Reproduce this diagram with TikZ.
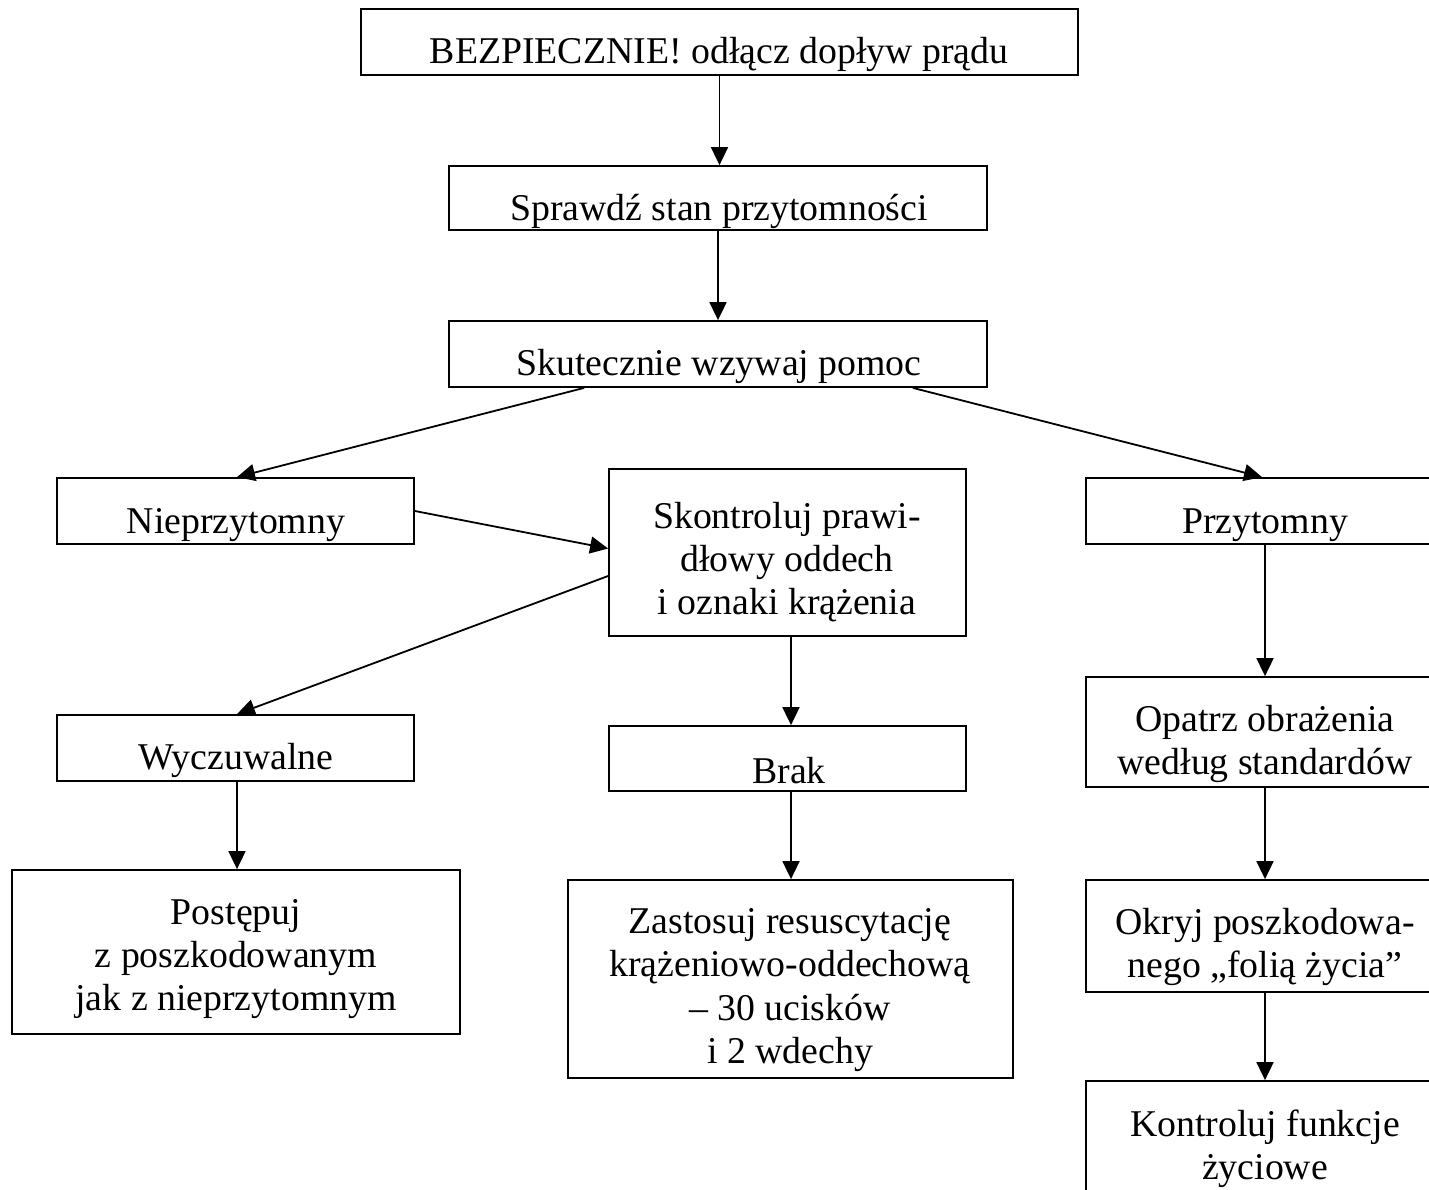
\documentclass[tikz,border=0pt]{standalone}
\usepackage{fontspec}
\setmainfont{Liberation Serif}
\usetikzlibrary{arrows.meta,calc}
\begin{document}
\begin{tikzpicture}[x=0.5pt,y=-0.5pt,
  box/.style={draw=black,line width=0.9pt,rectangle,inner sep=0pt},
  txt/.style={align=center,inner sep=0pt,font=\fontsize{18.9pt}{21.6pt}\selectfont},
  arr/.style={line width=0.9pt,-{Triangle[length=9pt,width=8.5pt]}}]
\useasboundingbox (0,0) rectangle (1429,1189);
\clip (0,0) rectangle (1429,1189);
% boxes
\node[box,minimum width=717*0.5pt,minimum height=66*0.5pt] (b1) at (719.5,42) {};
\node[box,minimum width=538*0.5pt,minimum height=64*0.5pt] (b2) at (718,198) {};
\node[box,minimum width=538*0.5pt,minimum height=66*0.5pt] (b3) at (718,354) {};
\node[box,minimum width=357*0.5pt,minimum height=66*0.5pt] (b4) at (235.5,511) {};
\node[box,minimum width=357*0.5pt,minimum height=167*0.5pt] (b5) at (787.5,552.5) {};
\node[box,minimum width=358*0.5pt,minimum height=66*0.5pt] (b6) at (1265,511) {};
\node[box,minimum width=357*0.5pt,minimum height=66*0.5pt] (b7) at (235.5,748) {};
\node[box,minimum width=357*0.5pt,minimum height=65*0.5pt] (b8) at (787.5,758.5) {};
\node[box,minimum width=358*0.5pt,minimum height=110*0.5pt] (b9) at (1265,732) {};
\node[box,minimum width=448*0.5pt,minimum height=164*0.5pt] (b10) at (236,952) {};
\node[box,minimum width=445*0.5pt,minimum height=198*0.5pt] (b11) at (790.5,979) {};
\node[box,minimum width=358*0.5pt,minimum height=112*0.5pt] (b12) at (1265,936) {};
\node[box,minimum width=358*0.5pt,minimum height=160*0.5pt] (b13) at (1265,1161) {};
% texts
\node[txt] (t1) at (719,54) {BEZPIECZNIE! odłącz dopływ prądu};
\node[txt] (t2) at (719,211) {Sprawdź stan przytomności};
\node[txt] (t3) at (719,366) {Skutecznie wzywaj pomoc};
\node[txt] (t4) at (236,525) {Nieprzytomny};
\node[txt] (t5) at (787,562) {Skontroluj prawi-\\dłowy oddech\\i oznaki krążenia};
\node[txt] (t6) at (1265,525) {Przytomny};
\node[txt] (t7) at (236,760) {Wyczuwalne};
\node[txt] (t8) at (789,771) {Brak};
\node[txt] (t9) at (1265,744) {Opatrz obrażenia\\według standardów};
\node[txt] (t10) at (236,959) {Postępuj\\z poszkodowanym\\jak z nieprzytomnym};
\node[txt] (t11) at (790,990) {Zastosuj resuscytację\\krążeniowo-oddechową\\– 30 ucisków\\i 2 wdechy};
\node[txt] (t12) at (1265,947) {Okryj poszkodowa-\\nego „folią życia”};
\node[txt] (t13) at (1265,1149) {Kontroluj funkcje\\życiowe};
% connectors
\draw[arr] (b1.south) -- (b1.south |- b2.north);
\draw[arr] (b2.south) -- (b3.north);
\draw[arr] ($(b3.south west)+(136,0)$) -- ($(b4.north)+(1.5,0)$);
\draw[arr] ($(b3.south east)+(-75,0)$) -- ($(b6.north)+(-3,0)$);
\draw[arr] (b4.east) -- ($(b5.west)+(0,-4)$);
\draw[arr] ($(b5.west)+(0,23.5)$) -- ($(b7.north)+(1.5,0)$);
\draw[arr] ($(b5.south)+(3.5,0)$) -- ($(b8.north)+(3.5,0)$);
\draw[arr] ($(b7.south)+(1.5,0)$) -- ($(b10.north)+(1,0)$);
\draw[arr] ($(b8.south)+(3.5,0)$) -- ($(b11.north)+(0.5,0)$);
\draw[arr] (b6.south) -- (b9.north);
\draw[arr] (b9.south) -- (b12.north);
\draw[arr] (b12.south) -- (b13.north);
\end{tikzpicture}
\end{document}
